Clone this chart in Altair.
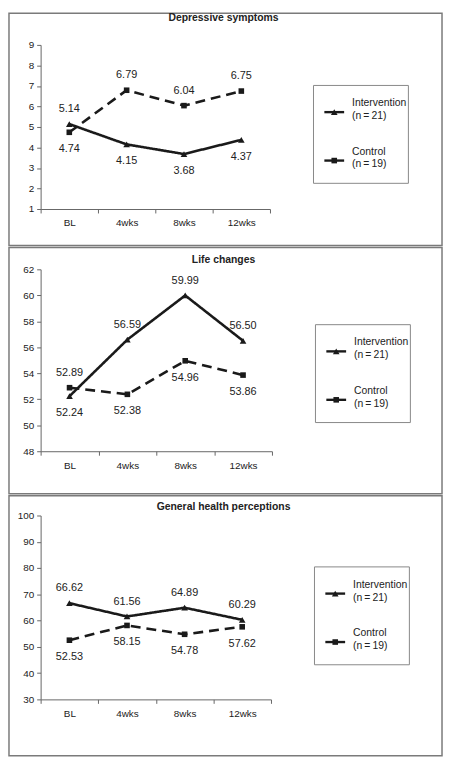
import altair as alt
import pandas as pd

# ---------------- data ----------------
times = ["BL", "4wks", "8wks", "12wks"]
groups = ["Intervention", "Control"]
n_sizes = [21, 19]
titles = ["Depressive symptoms", "Life changes", "General health perceptions"]

dep_int = [5.14, 4.15, 3.68, 4.37]
dep_ctl = [4.74, 6.79, 6.04, 6.75]
life_int = [52.24, 56.59, 59.99, 56.50]
life_ctl = [52.89, 52.38, 54.96, 53.86]
ghp_int = [66.62, 61.56, 64.89, 60.29]
ghp_ctl = [52.53, 58.15, 54.78, 57.62]

dep_ticks = [1, 2, 3, 4, 5, 6, 7, 8, 9]
life_ticks = [48, 50, 52, 54, 56, 58, 60, 62]
ghp_ticks = [30, 40, 50, 60, 70, 80, 90, 100]

# ---------------- styling / layout ----------------
FONT = "Liberation Sans"
INK = "#1a1a1a"
TXT = "#222222"
GRAY = "#7a7a7a"
SHAPES = ["triangle-up", "square"]
SIZES = [45, 32]

geo = [
    dict(w=232, h=166, ry=(-32, 203), ty=-27, bx=276, by=41),
    dict(w=234, h=184, ry=(-22, 227), ty=-9, bx=278, by=56),
    dict(w=233, h=186, ry=(-20, 243), ty=-9, bx=277, by=52),
]
RX = (-32, 406)
TX = 185


def panel(title, v_int, v_ctl, ticks, g):
    df = pd.DataFrame({
        "time": times * 2,
        "idx": list(range(len(times))) * 2,
        "group": [groups[0]] * len(times) + [groups[1]] * len(times),
        "value": v_int + v_ctl,
    })
    df["upper"] = df["value"] == df.groupby("time")["value"].transform("max")
    base = alt.Chart(df)
    one = alt.Chart(pd.DataFrame({"k": [0]}))

    x = alt.X(
        "time:N", sort=times,
        scale=alt.Scale(type="band", paddingInner=0, paddingOuter=0),
        axis=alt.Axis(title=None, labelAngle=0, tickBand="extent", tickSize=4, labelPadding=5),
    )
    y = alt.Y(
        "value:Q",
        scale=alt.Scale(domain=[ticks[0], ticks[-1]], nice=False, zero=False),
        axis=alt.Axis(title=None, values=ticks, tickSize=4, grid=False, labelPadding=3),
    )

    layers = []
    layers.append(one.mark_rect(filled=False, stroke=GRAY, strokeWidth=1.5).encode(
        x=alt.value(RX[0]), x2=alt.value(RX[1]), y=alt.value(g["ry"][0]), y2=alt.value(g["ry"][1])))
    layers.append(base.mark_line(strokeWidth=2.6, color=INK).encode(
        x=x, y=y, order=alt.Order("idx:Q"),
        strokeDash=alt.StrokeDash("group:N", scale=alt.Scale(domain=groups, range=[[1, 0], [10, 6]]),
                                  legend=None)))
    for grp, shp, sz in zip(groups, SHAPES, SIZES):
        layers.append(base.transform_filter(alt.datum.group == grp).mark_point(
            shape=shp, filled=True, size=sz, color=INK, opacity=1).encode(x=x, y=y))
    layers.append(base.transform_filter("datum.upper").mark_text(dy=-15, fontSize=11, color=TXT).encode(
        x=x, y=y, text=alt.Text("value:Q", format=".2f")))
    layers.append(base.transform_filter("!datum.upper").mark_text(dy=17, fontSize=11, color=TXT).encode(
        x=x, y=y, text=alt.Text("value:Q", format=".2f")))
    layers.append(one.mark_text(fontSize=10.5, fontWeight="bold", color=TXT).encode(
        x=alt.value(TX), y=alt.value(g["ty"]), text=alt.value(title)))

    # legend box
    bx, by = g["bx"], g["by"]
    layers.append(one.mark_rect(filled=False, stroke="#888888", strokeWidth=1).encode(
        x=alt.value(bx), x2=alt.value(bx + 96), y=alt.value(by), y2=alt.value(by + 99)))
    for i, (grp, n, shp, sz) in enumerate(zip(groups, n_sizes, SHAPES, SIZES)):
        yc = by + 27 + 49 * i
        layers.append(one.mark_rule(strokeWidth=2.4, color=INK).encode(
            x=alt.value(bx + 11), x2=alt.value(bx + 31), y=alt.value(yc)))
        layers.append(one.mark_point(shape=shp, filled=True, size=sz, color=INK, opacity=1).encode(
            x=alt.value(bx + 21), y=alt.value(yc)))
        layers.append(one.mark_text(align="left", fontSize=10.5, color=TXT).encode(
            x=alt.value(bx + 39), y=alt.value(yc - 9), text=alt.value(grp)))
        layers.append(one.mark_text(align="left", fontSize=10.5, color=TXT).encode(
            x=alt.value(bx + 39), y=alt.value(yc + 4), text=alt.value(f"(n\u2009=\u2009{n})")))

    return alt.layer(*layers).properties(width=g["w"], height=g["h"])


p1 = panel(titles[0], dep_int, dep_ctl, dep_ticks, geo[0])
p2 = panel(titles[1], life_int, life_ctl, life_ticks, geo[1])
p3 = panel(titles[2], ghp_int, ghp_ctl, ghp_ticks, geo[2])

chart = (
    alt.vconcat(p1, p2, p3, spacing=0)
    .resolve_scale(strokeDash="independent", x="independent", y="independent")
    .properties(padding=0)
    .configure(font=FONT)
    .configure_view(strokeWidth=0)
    .configure_axis(labelFontSize=10, labelColor=TXT, domainColor="#666666", tickColor="#666666",
                    labelFont=FONT)
)

chart.save("out.html", embed_options={"renderer": "svg", "actions": False})
